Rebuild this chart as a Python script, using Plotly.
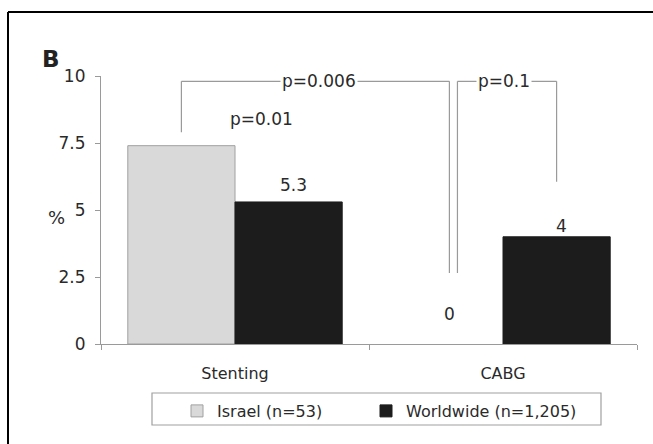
import plotly.graph_objects as go

categories = ["Stenting", "CABG"]
israel_values = [7.4, 0]
worldwide_values = [5.3, 4]
israel_labels = ["", "0"]
worldwide_labels = ["5.3", "4"]
series_names = ["Israel (n=53)", "Worldwide (n=1,205)"]
y_ticks = [0, 2.5, 5, 7.5, 10]
y_tick_labels = ["0", "2.5", "5", "7.5", "10"]
p_labels = ["p=0.006", "p=0.1", "p=0.01"]

FONT = "DejaVu Sans"
TXT = "#2a2a2a"
LINE = "#9a9a9a"

W, H = 653, 444
L, R, T, B = 101, 16, 76, 100
pw, ph = W - L - R, H - T - B


def px_x(px):
    return (px - L) / pw


def px_y(py):
    return (H - B - py) / ph


fig = go.Figure()
fig.add_trace(go.Bar(x=categories, y=israel_values, name=series_names[0], legend="legend",
                     marker=dict(color="#d9d9d9",
                                 line=dict(color="#a0a0a0", width=[1 if v > 0 else 0 for v in israel_values]))))
fig.add_trace(go.Bar(x=categories, y=worldwide_values, name=series_names[1], legend="legend2",
                     marker=dict(color="#1c1c1c", line=dict(color="#1c1c1c", width=1))))

annotations = []
shifts_w = [17, 11]
shifts_i = [0, 30]
for i, (lab, v) in enumerate(zip(worldwide_labels, worldwide_values)):
    if lab:
        annotations.append(dict(x=i + 0.2 + 0.02, y=v, text=lab, showarrow=False, yshift=shifts_w[i],
                                yanchor="middle", font=dict(family=FONT, size=17, color=TXT)))
for i, (lab, v) in enumerate(zip(israel_labels, israel_values)):
    if lab:
        annotations.append(dict(x=i - 0.2, y=v, text=lab, showarrow=False, yshift=shifts_i[i],
                                yanchor="middle", font=dict(family=FONT, size=17, color=TXT)))

ytop = 9.8
shapes = []
for x0, y0, x1, y1 in [(-0.2, 7.9, -0.2, ytop), (-0.2, ytop, 0.8, ytop), (0.8, ytop, 0.8, 2.65),
                       (0.83, 2.65, 0.83, ytop), (0.83, ytop, 1.2, ytop), (1.2, ytop, 1.2, 6.05)]:
    shapes.append(dict(type="line", xref="x", yref="y", x0=x0, y0=y0, x1=x1, y1=y1,
                       line=dict(color=LINE, width=1.2), layer="below"))

annotations.append(dict(x=0.313, y=ytop, text=p_labels[0], showarrow=False, bgcolor="white",
                        font=dict(family=FONT, size=17, color=TXT), borderpad=1))
annotations.append(dict(x=1.004, y=ytop, text=p_labels[1], showarrow=False, bgcolor="white",
                        font=dict(family=FONT, size=17, color=TXT), borderpad=1))
annotations.append(dict(x=0.10, y=8.4, text=p_labels[2], showarrow=False,
                        font=dict(family=FONT, size=17, color=TXT)))

annotations.append(dict(xref="paper", yref="paper", x=px_x(40), y=px_y(44), text="<b>B</b>",
                        showarrow=False, font=dict(family=FONT, size=23, color="#222222")))
annotations.append(dict(xref="paper", yref="paper", x=px_x(46), y=px_y(217), text="%",
                        showarrow=False, font=dict(family=FONT, size=18, color=TXT)))

shapes.append(dict(type="line", xref="paper", yref="paper", x0=px_x(8), y0=px_y(12), x1=px_x(660), y1=px_y(12),
                   line=dict(color="black", width=2)))
shapes.append(dict(type="line", xref="paper", yref="paper", x0=px_x(8), y0=px_y(12), x1=px_x(8), y1=px_y(450),
                   line=dict(color="black", width=2)))
shapes.append(dict(type="rect", xref="paper", yref="paper", x0=px_x(152), y0=px_y(393), x1=px_x(601), y1=px_y(425),
                   line=dict(color="#a0a0a0", width=1.2)))

leg_common = dict(orientation="h", xanchor="left", yanchor="top", y=px_y(394),
                  font=dict(family=FONT, size=16, color=TXT), bgcolor="rgba(0,0,0,0)",
                  borderwidth=0, itemclick=False, itemdoubleclick=False)

fig.update_layout(
    width=W, height=H,
    margin=dict(l=L, r=R, t=T, b=B, autoexpand=False),
    paper_bgcolor="white", plot_bgcolor="white",
    barmode="group", bargap=0.2, bargroupgap=0,
    showlegend=True,
    legend=dict(x=px_x(177), **leg_common),
    legend2=dict(x=px_x(366), **leg_common),
    font=dict(family=FONT, color=TXT),
    annotations=annotations,
    shapes=shapes,
)
fig.update_xaxes(type="category", range=[-0.5, 1.5], showline=True, linecolor=LINE, linewidth=1.2,
                 ticks="outside", ticklen=5, tickcolor=LINE, tickson="boundaries",
                 showgrid=False, zeroline=False, ticklabelstandoff=15,
                 tickfont=dict(family=FONT, size=16, color=TXT))
fig.update_yaxes(range=[0, 10], tickvals=y_ticks, ticktext=y_tick_labels, showline=True,
                 linecolor=LINE, linewidth=1.2, ticks="outside", ticklen=5, tickcolor=LINE,
                 showgrid=False, zeroline=False, ticklabelstandoff=6,
                 tickfont=dict(family=FONT, size=17, color=TXT))

fig.write_html("out.html", config={"displayModeBar": False},
               post_script="document.body.style.margin='0';document.body.style.overflow='hidden';")
